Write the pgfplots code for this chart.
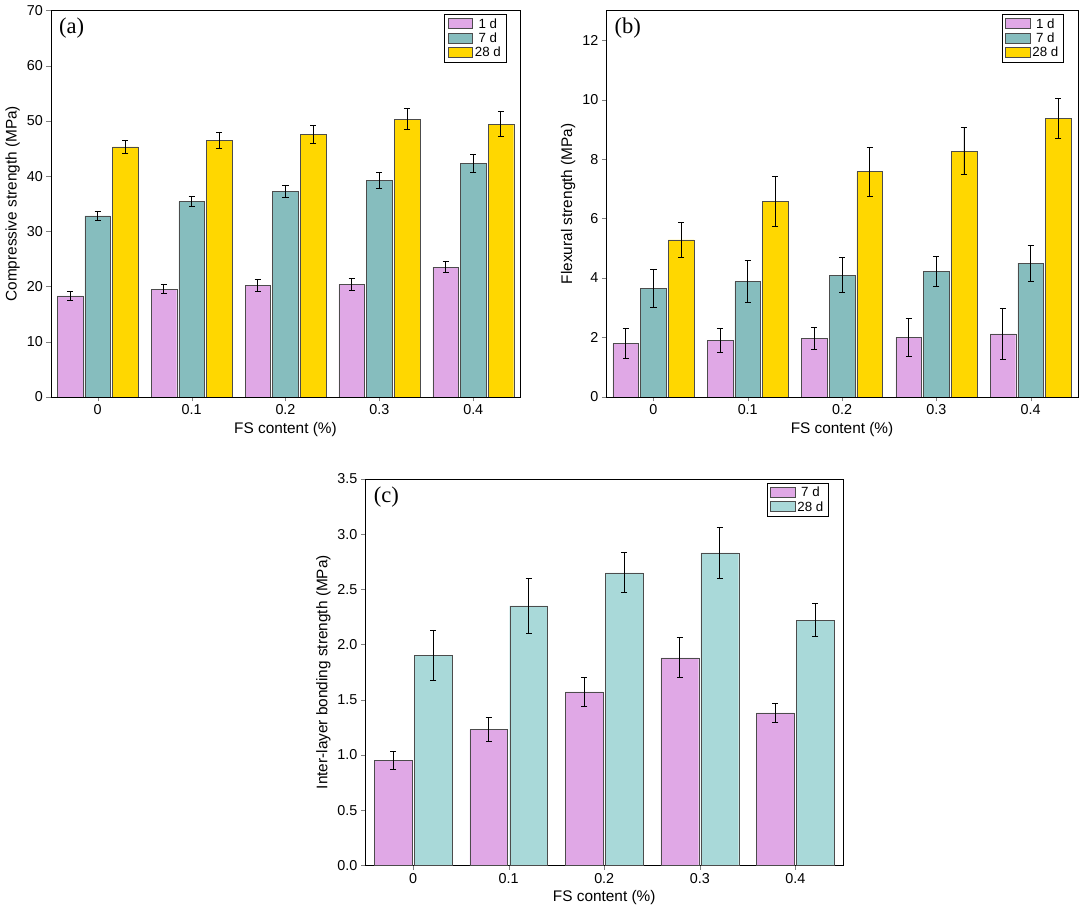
\documentclass[border=2pt]{standalone}
\usepackage{pgfplots}
\pgfplotsset{compat=1.18}
\usepackage{fontspec}
\setmainfont{Liberation Sans}
\newfontfamily\serif{Liberation Serif}
\definecolor{cpink}{HTML}{E0A8E6}
\definecolor{cteal}{HTML}{86BDBE}
\definecolor{cyel}{HTML}{FFD700}
\definecolor{clteal}{HTML}{A9D9D9}
\pgfplotsset{
 base/.style={scale only axis, ybar, bar width=25pt,
  xmin=-0.5,xmax=4.5, xtick={0,1,2,3,4}, xticklabels={0,0.1,0.2,0.3,0.4},
  tick align=outside, tick pos=left, ymin=0,
  ticklabel style={font=\fontsize{14}{16}\selectfont},
  label style={font=\fontsize{15}{18}\selectfont},
  /pgf/number format/assume math mode=true,
  xlabel={FS content (\%)},
  legend style={at={(0.97,0.99)},anchor=north east,font=\fontsize{13}{15}\selectfont, draw=black, row sep=-1pt},
  legend image code/.code={\draw[##1] (0cm,-0.15cm) rectangle (0.85cm,0.2cm);},
  every axis plot/.append style={draw=black!70, line width=0.4pt,
   error bars/y dir=both, error bars/y explicit,
   error bars/error bar style={black, line width=0.9pt},
   error bars/error mark options={rotate=90,mark size=3pt,black,line width=0.9pt}},
 }}
\begin{document}
\begin{tikzpicture}[x=1pt,y=1pt]
\begin{axis}[base, at={(65pt,-390pt)}, width=458pt, height=377pt, ymax=70, ytick={0,10,...,70},
  ylabel={Compressive strength (MPa)}, bar width=25pt]
\addplot[fill=cpink] coordinates {(0,18.3)+-(0,0.8) (1,19.5)+-(0,0.8) (2,20.2)+-(0,1.1) (3,20.4)+-(0,1.1) (4,23.5)+-(0,1.0)};
\addplot[fill=cteal] coordinates {(0,32.8)+-(0,0.8) (1,35.4)+-(0,0.9) (2,37.3)+-(0,1.1) (3,39.2)+-(0,1.4) (4,42.3)+-(0,1.7)};
\addplot[fill=cyel] coordinates {(0,45.3)+-(0,1.2) (1,46.5)+-(0,1.5) (2,47.6)+-(0,1.6) (3,50.3)+-(0,1.9) (4,49.4)+-(0,2.3)};
\legend{1 d,7 d,28 d}
\node[anchor=north west,font=\serif\fontsize{22}{24}\selectfont] at (rel axis cs:0.01,0.99) {(a)};
\end{axis}
\begin{axis}[base, at={(607pt,-390pt)}, width=460pt, height=377pt, ymax=13, ytick={0,2,...,12},
  ylabel={Flexural strength (MPa)}, bar width=25pt]
\addplot[fill=cpink] coordinates {(0,1.8)+-(0,0.5) (1,1.9)+-(0,0.42) (2,1.97)+-(0,0.38) (3,2.0)+-(0,0.65) (4,2.12)+-(0,0.85)};
\addplot[fill=cteal] coordinates {(0,3.65)+-(0,0.65) (1,3.88)+-(0,0.7) (2,4.1)+-(0,0.6) (3,4.22)+-(0,0.5) (4,4.5)+-(0,0.6)};
\addplot[fill=cyel] coordinates {(0,5.28)+-(0,0.6) (1,6.57)+-(0,0.85) (2,7.58)+-(0,0.82) (3,8.27)+-(0,0.78) (4,9.37)+-(0,0.68)};
\legend{1 d,7 d,28 d}
\node[anchor=north west,font=\serif\fontsize{22}{24}\selectfont] at (rel axis cs:0.01,0.99) {(b)};
\end{axis}
\begin{axis}[base, at={(372pt,-847pt)}, width=466pt, height=377pt, ymax=3.5, ytick={0,0.5,...,3.5},
  yticklabel style={/pgf/number format/.cd,fixed,fixed zerofill,precision=1},
  ylabel={Inter-layer bonding strength (MPa)}, bar width=37pt]
\addplot[fill=cpink] coordinates {(0,0.95)+-(0,0.08) (1,1.23)+-(0,0.11) (2,1.57)+-(0,0.13) (3,1.88)+-(0,0.18) (4,1.38)+-(0,0.09)};
\addplot[fill=clteal] coordinates {(0,1.9)+-(0,0.23) (1,2.35)+-(0,0.25) (2,2.65)+-(0,0.18) (3,2.83)+-(0,0.23) (4,2.22)+-(0,0.15)};
\legend{7 d,28 d}
\node[anchor=north west,font=\serif\fontsize{22}{24}\selectfont] at (rel axis cs:0.01,0.99) {(c)};
\end{axis}
\end{tikzpicture}
\end{document}
